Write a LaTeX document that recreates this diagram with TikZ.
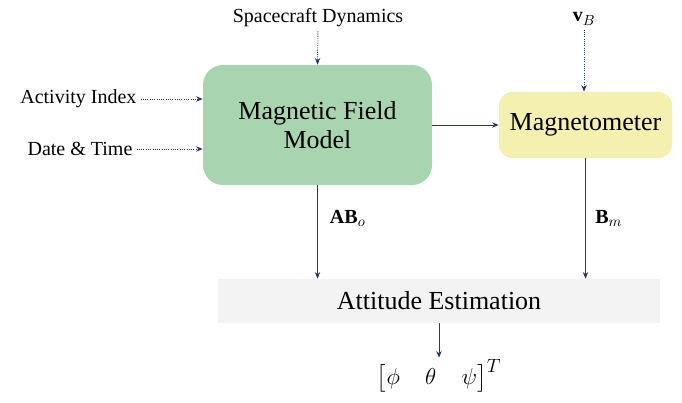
\documentclass[tikz,border=0pt]{standalone}
\usepackage{amsmath}
\usepackage{fontspec}
\setmainfont{Liberation Serif}
\usetikzlibrary{arrows.meta,positioning}

\definecolor{boxgreen}{RGB}{168,213,176}
\definecolor{boxyellow}{RGB}{243,240,176}
\definecolor{boxgray}{RGB}{242,243,242}
\definecolor{linenavy}{RGB}{40,58,96}

\tikzset{
  blockbox/.style={draw=none, align=center, inner sep=0pt, font=\fontsize{19.5}{22}\selectfont},
  sidelabel/.style={inner sep=1pt, font=\fontsize{15}{18}\selectfont},
  flowline/.style={draw=linenavy, line width=0.7pt, -{Stealth[length=5pt,width=4pt]}},
  dotline/.style={draw=linenavy, line width=0.7pt, densely dotted, shorten <=2pt, -{Stealth[length=5pt,width=4pt]}}
}

\begin{document}
\begin{tikzpicture}[x=0.75pt,y=0.75pt,yscale=-1,xscale=1]
\useasboundingbox (0,0) rectangle (682,403);

%Blocks
\node [blockbox, fill=boxgreen, rounded corners=15pt, minimum width={229*0.75pt}, minimum height={120*0.75pt}] (field) at (317.5,125) {Magnetic Field\\Model};
\node [blockbox, fill=boxyellow, rounded corners=10pt, minimum width={173*0.75pt}, minimum height={66*0.75pt}] (magneto) at (585.5,125) {Magnetometer};
\node [blockbox, fill=boxgray, minimum width={442*0.75pt}, minimum height={44*0.75pt}] (attitude) at (439,301) {Attitude Estimation};

% Text Node
\node [sidelabel] (dynamics) at (318,18) {Spacecraft Dynamics};
% Text Node
\node [sidelabel] (vb) at (584,19) {$\mathbf{v}_{B}$};
% Text Node
\node [sidelabel, anchor=east] (activity) at (138,99) {Activity Index};
% Text Node
\node [sidelabel, anchor=east] (datetime) at (134,149) {Date \& Time};
% Text Node
\node [sidelabel, font=\fontsize{19}{22}\selectfont] (angles) at (439,376) {$\bigl[\phi\quad\theta\quad\psi\bigr]^{T}$};

%Inputs
\draw [dotline] (dynamics.south) -- (field.north);
\draw [dotline] (vb.south) -- (vb.south |- magneto.north);
\draw [dotline] (activity.east) -- (activity.east -| field.west);
\draw [dotline] (datetime.east) -- (datetime.east -| field.west);

%Signal flow
\draw [flowline] (field.east) -- (magneto.west);
\draw [flowline] (field.south) -- node [pos=0.35, right=8pt, sidelabel] (abo) {$\mathbf{AB}_{o}$} (field.south |- attitude.north);
\draw [flowline] (magneto.south) -- node [pos=0.5, right=6pt, sidelabel] (bm) {$\mathbf{B}_{m}$} (magneto.south |- attitude.north);
\draw [flowline] (attitude.south) -- (angles.north);

\end{tikzpicture}
\end{document}
